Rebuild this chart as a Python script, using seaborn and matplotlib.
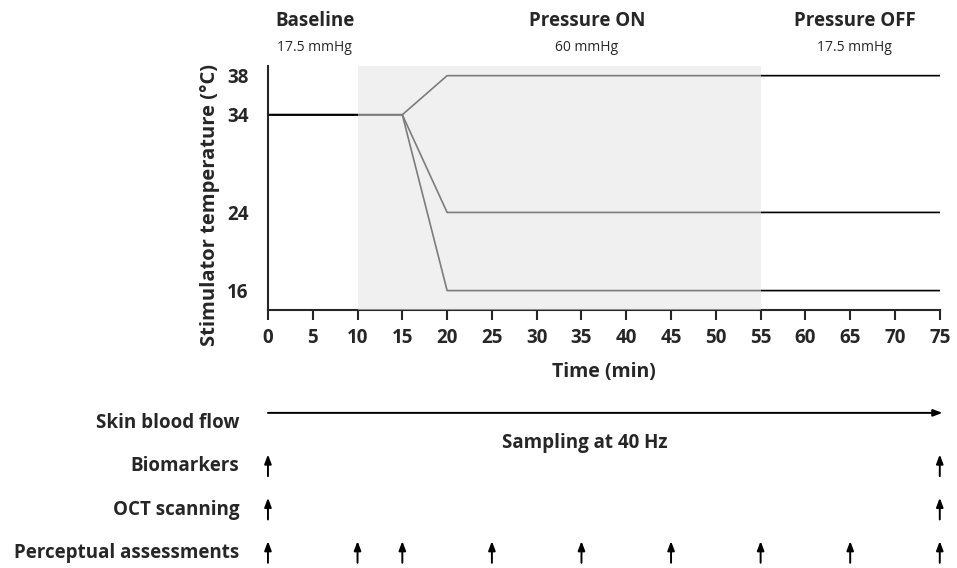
import matplotlib
matplotlib.use("Agg")
import matplotlib.pyplot as plt
import pandas as pd
import seaborn as sns

# --- data ---
profile_time = [0, 15, 20, 75]
warm_temp = [34, 34, 38, 38]
cool_temp = [34, 34, 24, 24]
cold_temp = [34, 34, 16, 16]
temp_ticks = [16, 24, 34, 38]
time_ticks = list(range(0, 80, 5))

pressure_on = (10, 55)
phase_names = ["Baseline", "Pressure ON", "Pressure OFF"]
phase_pressures = ["17.5 mmHg", "60 mmHg", "17.5 mmHg"]
phase_centres = [5.2, 35.6, 65.5]

row_labels = ["Skin blood flow", "Biomarkers", "OCT scanning", "Perceptual assessments"]
biomarker_times = [0, 75]
oct_times = [0, 75]
perceptual_times = [0, 10, 15, 25, 35, 45, 55, 65, 75]

profiles = pd.concat(
    [
        pd.DataFrame({"time": profile_time, "temp": t, "cond": c})
        for t, c in [(warm_temp, "warm"), (cool_temp, "cool"), (cold_temp, "cold")]
    ]
)

sns.set_theme(style="ticks")
plt.rcParams["font.family"] = ["Open Sans", "DejaVu Sans"]

fig = plt.figure(figsize=(9.57, 5.68), dpi=100)
ax = fig.add_axes([0.280, 0.454, 0.702, 0.430])

sns.lineplot(
    data=profiles, x="time", y="temp", hue="cond",
    palette=["black"] * 3, legend=False, linewidth=1.2, ax=ax,
)
# translucent panel on top greys out the lines during the pressure phase
ax.axvspan(*pressure_on, color="#e4e4e4", alpha=0.55, lw=0, zorder=5)

ax.set_xlim(0, 75)
ax.set_ylim(14, 39)
ax.set_xticks(time_ticks)
ax.set_yticks(temp_ticks)
ax.tick_params(axis="x", length=7, width=1.5, pad=6, labelsize=13.5)
ax.tick_params(axis="y", length=0, pad=14, labelsize=13.5)
for lbl in ax.get_xticklabels() + ax.get_yticklabels():
    lbl.set_fontweight("bold")
ax.set_xlabel("Time (min)", fontsize=14, fontweight="bold", labelpad=10)
ax.set_ylabel("Stimulator temperature (°C)", fontsize=14.5, fontweight="bold", labelpad=5)
ax.yaxis.label.set_y(0.43)
sns.despine(ax=ax)
for side in ["left", "bottom"]:
    ax.spines[side].set_linewidth(1.5)

for name, pres, xc in zip(phase_names, phase_pressures, phase_centres):
    ax.text(xc, 1.185, name, transform=ax.get_xaxis_transform(), ha="center",
            va="center", fontsize=13.5, fontweight="bold")
    ax.text(xc, 1.075, pres, transform=ax.get_xaxis_transform(), ha="center",
            va="center", fontsize=10)

# --- measurement timeline below ---
ax2 = fig.add_axes([0.280, 0.0, 0.702, 0.296])
ax2.set_xlim(0, 75)
ax2.set_ylim(3.35, -0.53)
ax2.axis("off")

arrow_kw = dict(arrowstyle="-|>,head_length=0.45,head_width=0.17", color="black",
                lw=1.4, shrinkA=0, shrinkB=0)
ax2.annotate("", xy=(75.3, -0.23), xytext=(0, -0.23), arrowprops=arrow_kw,
             annotation_clip=False)
ax2.text(35.4, 0.46, "Sampling at 40 Hz", ha="center", va="center",
         fontsize=13.5, fontweight="bold")

for row, times in enumerate([biomarker_times, oct_times, perceptual_times], start=1):
    for t in times:
        ax2.annotate("", xy=(t, row - 0.27), xytext=(t, row + 0.23),
                     arrowprops=arrow_kw, annotation_clip=False)

for row, label in enumerate(row_labels):
    ax2.text(-3.2, row, label, ha="right", va="center", fontsize=13.5,
             fontweight="bold", clip_on=False)

fig.savefig("out.png", dpi=100)
